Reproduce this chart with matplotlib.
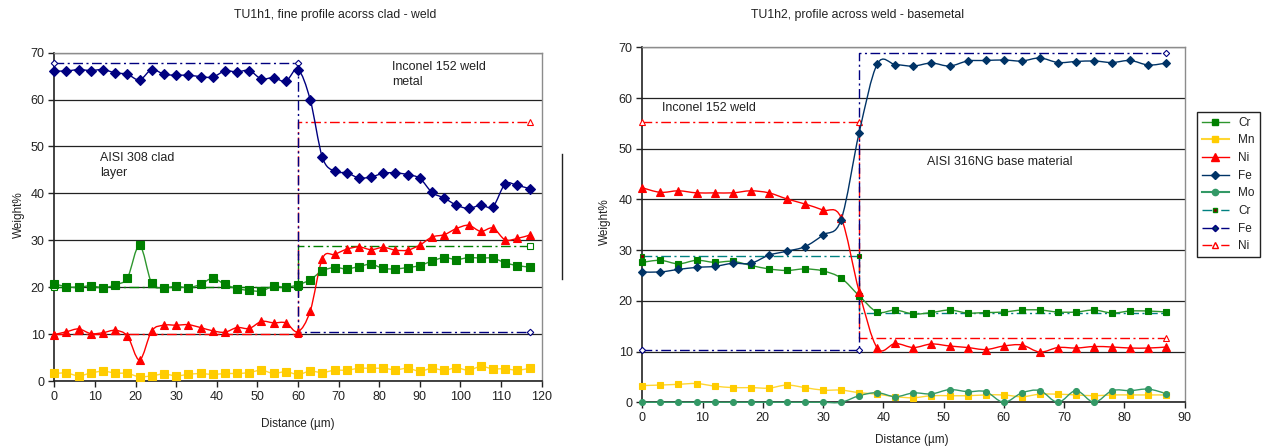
import matplotlib
matplotlib.use("Agg")
import matplotlib.pyplot as plt
import numpy as np
from matplotlib.path import Path
from matplotlib.patches import PathPatch
from matplotlib.lines import Line2D

plt.rcParams['font.family'] = ['Liberation Sans', 'DejaVu Sans']

# ---------------- TU1h1: clad -> weld ----------------
dist1 = list(range(0, 118, 3))
cr1 = [20.75, 20.1, 20.0, 20.3, 19.9, 20.5, 22.0, 28.9, 20.8, 19.9, 20.2, 19.9, 20.6, 21.9,
       20.6, 19.7, 19.3, 19.2, 20.2, 20.0, 20.5, 21.6, 23.5, 24.2, 23.9, 24.4, 24.9, 24.0,
       23.9, 24.2, 24.6, 25.6, 26.3, 25.9, 26.3, 26.2, 26.2, 25.2, 24.6, 24.3]
mn1 = [1.6, 1.7, 1.1, 1.7, 2.1, 1.7, 1.6, 0.9, 1.1, 1.5, 1.1, 1.4, 1.6, 1.4, 1.6, 1.6, 1.8,
       2.3, 1.6, 2.0, 1.4, 2.1, 1.8, 2.3, 2.3, 2.7, 2.7, 2.7, 2.4, 2.7, 2.1, 2.7, 2.3, 2.8,
       2.3, 3.1, 2.6, 2.6, 2.3, 2.7]
ni1 = [9.9, 10.5, 11.1, 10.1, 10.3, 10.8, 9.6, 4.5, 10.7, 11.9, 11.9, 12.0, 11.4, 10.7,
       10.4, 11.4, 11.2, 12.7, 12.4, 12.4, 10.5, 14.9, 26.1, 27.0, 28.1, 28.6, 28.0, 28.5,
       27.9, 27.9, 29.0, 30.7, 31.2, 32.5, 33.2, 31.9, 32.6, 30.1, 30.4, 31.1]
fe1 = [66.1, 66.1, 66.4, 66.2, 66.4, 65.7, 65.4, 64.2, 66.4, 65.4, 65.2, 65.2, 64.9, 64.8,
       66.1, 65.9, 66.2, 64.4, 64.7, 63.9, 66.4, 60.0, 47.7, 44.7, 44.4, 43.3, 43.5, 44.3,
       44.4, 44.0, 43.2, 40.2, 39.0, 37.5, 36.8, 37.5, 37.2, 42.0, 41.7, 41.0]
# nominal compositions (step profiles)
ref1_x = [0, 60, 60, 117]
cr_ref1 = [20.0, 20.0, 28.8, 28.8]
fe_ref1 = [67.9, 67.9, 10.4, 10.4]
ni_ref1 = [10.0, 10.0, 55.3, 55.3]

# ---------------- TU1h2: weld -> base metal ----------------
dist2 = list(range(0, 88, 3))
cr2 = [27.6, 28.0, 27.3, 28.0, 27.6, 27.8, 27.0, 26.3, 26.0, 26.3, 25.9, 24.5, 21.0, 17.8,
       18.2, 17.4, 17.7, 18.2, 17.6, 17.7, 17.8, 18.2, 18.2, 17.8, 17.8, 18.2, 17.6, 18.0,
       18.0, 17.8]
mn2 = [3.3, 3.4, 3.55, 3.7, 3.2, 2.9, 2.9, 2.8, 3.4, 2.9, 2.4, 2.4, 1.9, 1.6, 1.1, 0.9,
       1.3, 1.3, 1.3, 1.45, 1.45, 1.1, 1.6, 1.6, 1.45, 1.3, 1.45, 1.45, 1.45, 1.45]
ni2 = [42.3, 41.4, 41.7, 41.3, 41.3, 41.3, 41.7, 41.3, 40.1, 39.1, 37.9, 36.4, 21.8, 10.7,
       11.6, 10.8, 11.5, 11.1, 10.8, 10.4, 11.1, 11.3, 9.9, 10.8, 10.7, 11.0, 10.9, 10.7,
       10.7, 10.9]
fe2 = [25.7, 25.7, 26.2, 26.6, 26.8, 27.4, 27.4, 29.0, 29.8, 30.7, 33.0, 36.0, 53.2, 66.7,
       66.6, 66.3, 66.9, 66.3, 67.3, 67.4, 67.5, 67.3, 67.9, 67.0, 67.2, 67.3, 67.0, 67.4,
       66.5, 66.9]
mo2 = [0, 0, 0, 0, 0, 0, 0, 0, 0, 0, 0, 0, 1.3, 1.9, 1.1, 1.85, 1.65, 2.5, 2.1, 2.1, 0,
       1.85, 2.3, 0, 2.3, 0, 2.3, 2.3, 2.6, 1.7]
ref2_x = [0, 36, 36, 87]
cr_ref2 = [28.8, 28.8, 17.6, 17.6]
fe_ref2 = [10.4, 10.4, 68.8, 68.8]
ni_ref2 = [55.2, 55.2, 12.6, 12.6]

DASHDOT = (0, (7, 2.5, 1.5, 2.5))
GREEN, GREEN_LINE = '#008000', '#2e962e'
GOLD, GOLD_LINE = '#ffcc00', '#ffd633'
RED = '#ff0000'
NAVY = '#000080'
DARKBLUE = '#003366'
MO = '#339966'
TEAL = '#008080'


def smooth_path(x, y):
    """Cubic Bezier path through the points (Catmull-Rom style smoothing)."""
    pts = np.column_stack([x, y]).astype(float)
    n = len(pts)
    verts = [pts[0]]
    codes = [Path.MOVETO]
    for i in range(n - 1):
        p0 = pts[i - 1] if i > 0 else pts[i]
        p1 = pts[i]
        p2 = pts[i + 1]
        p3 = pts[i + 2] if i + 2 < n else pts[i + 1]
        c1 = p1 + (p2 - p0) / 6.0
        c2 = p2 - (p3 - p1) / 6.0
        verts += [c1, c2, p2]
        codes += [Path.CURVE4] * 3
    return Path(verts, codes)


def series(ax, x, y, lc, mc, marker, ms, mec=None, lw=1.0, z=3):
    ax.add_patch(PathPatch(smooth_path(x, y), fill=False, edgecolor=lc, lw=lw, zorder=z,
                           clip_on=False))
    ax.plot(x, y, linestyle='none', marker=marker, ms=ms, mfc=mc,
            mec=mec if mec else mc, mew=0.8, zorder=z + 0.5, clip_on=False)


def step_ref(ax, x, y, color, marker, ms, mfc='white', mec=None):
    ax.plot(x, y, color=color, lw=1.0, linestyle=DASHDOT, zorder=2.5, clip_on=False)
    ax.plot([x[0], x[1], x[-1]], [y[0], y[1], y[-1]], linestyle='none', marker=marker,
            ms=ms, mfc=mfc, mec=mec if mec else color, mew=0.8, zorder=2.6, clip_on=False)


def style_axes(ax, xmax, xlabel_pos, ylabel_pos):
    ax.set_ylim(0, 70)
    ax.set_xlim(0, xmax)
    ax.set_xticks(np.arange(0, xmax + 1, 10))
    ax.set_yticks(np.arange(0, 71, 10))
    ax.grid(axis='y', color='#222222', lw=0.9, zorder=1)
    ax.set_axisbelow(True)
    for s in ('top', 'right'):
        ax.spines[s].set_color('#8c8c8c')
        ax.spines[s].set_linewidth(1.0)
    for s in ('left', 'bottom'):
        ax.spines[s].set_color('#222222')
        ax.spines[s].set_linewidth(1.2)
    ax.tick_params(axis='both', direction='out', length=4, width=1, labelsize=9,
                   color='#222222', labelcolor='#222222', pad=3)
    ax.set_xlabel('Distance (µm)', fontsize=8.5, color='#222222')
    ax.set_ylabel('Weight%', fontsize=8.5, color='#222222')
    ax.xaxis.set_label_coords(*xlabel_pos)
    ax.yaxis.set_label_coords(*ylabel_pos)


fig = plt.figure(figsize=(12.68, 4.47), dpi=100)

# ---- left panel ----
ax1 = fig.add_axes([54.3 / 1268, 1 - 381 / 447, 487.4 / 1268, 328.3 / 447])
style_axes(ax1, 120, (0.5, -0.113), (-0.06, 0.506))
step_ref(ax1, ref1_x, cr_ref1, GREEN, 's', 3.8)
step_ref(ax1, ref1_x, ni_ref1, RED, '^', 4.2)
step_ref(ax1, ref1_x, fe_ref1, NAVY, 'D', 3.3)
series(ax1, dist1, mn1, GOLD_LINE, GOLD, 's', 5.2)
series(ax1, dist1, cr1, GREEN_LINE, GREEN, 's', 5.2)
series(ax1, dist1, ni1, RED, RED, '^', 6)
series(ax1, dist1, fe1, NAVY, NAVY, 'D', 5)
ax1.text(83.2, 68.2, 'Inconel 152 weld\nmetal', fontsize=9, color='#222222',
         va='top', ha='left', linespacing=1.3)
ax1.text(11.3, 48.8, 'AISI 308 clad\nlayer', fontsize=9, color='#222222',
         va='top', ha='left', linespacing=1.3)
fig.text(335 / 1268, 1 - 15 / 447, 'TU1h1, fine profile acorss clad - weld',
         fontsize=8.8, color='#222222', ha='center', va='center')
fig.add_artist(Line2D([561.7 / 1268] * 2, [1 - 154 / 447, 1 - 279 / 447],
                      color='#222222', lw=1.0))

# ---- right panel ----
ax2 = fig.add_axes([642.3 / 1268, 1 - 402.3 / 447, 542.2 / 1268, 355 / 447])
style_axes(ax2, 90, (0.497, -0.088), (-0.058, 0.508))
step_ref(ax2, ref2_x, cr_ref2, TEAL, 's', 3.3, mfc='#800000', mec=GREEN)
step_ref(ax2, ref2_x, ni_ref2, RED, '^', 3.8)
step_ref(ax2, ref2_x, fe_ref2, NAVY, 'D', 3.2)
series(ax2, dist2, mn2, GOLD_LINE, GOLD, 's', 4.6)
series(ax2, dist2, mo2, MO, MO, 'o', 4.3)
series(ax2, dist2, cr2, GREEN_LINE, GREEN, 's', 4.8)
series(ax2, dist2, ni2, RED, RED, '^', 5.2)
series(ax2, dist2, fe2, DARKBLUE, DARKBLUE, 'D', 3.8)
ax2.text(3.3, 58.0, 'Inconel 152 weld', fontsize=9, color='#222222', va='center', ha='left')
ax2.text(47.2, 47.4, 'AISI 316NG base material', fontsize=9, color='#222222',
         va='center', ha='left')
fig.text(858 / 1268, 1 - 15 / 447, 'TU1h2, profile across weld - basemetal',
         fontsize=8.8, color='#222222', ha='center', va='center')

handles = [
    Line2D([], [], color=GREEN_LINE, marker='s', ms=4.8, mfc=GREEN, mec=GREEN, lw=1),
    Line2D([], [], color=GOLD_LINE, marker='s', ms=4.8, mfc=GOLD, mec=GOLD, lw=1.5),
    Line2D([], [], color=RED, marker='^', ms=5.2, mfc=RED, mec=RED, lw=1),
    Line2D([], [], color=DARKBLUE, marker='D', ms=3.8, mfc=DARKBLUE, mec=DARKBLUE, lw=1),
    Line2D([], [], color=MO, marker='o', ms=4.5, mfc=MO, mec=MO, lw=1.5),
    Line2D([], [], color=TEAL, linestyle=DASHDOT, marker='s', ms=3.3, mfc='#800000', mec=GREEN, lw=1),
    Line2D([], [], color=NAVY, linestyle=DASHDOT, marker='D', ms=3.2, mfc=DARKBLUE, mec=NAVY, lw=1),
    Line2D([], [], color=RED, linestyle=DASHDOT, marker='^', ms=3.8, mfc='white', mec=RED, lw=1),
]
labels = ['Cr', 'Mn', 'Ni', 'Fe', 'Mo', 'Cr', 'Fe', 'Ni']
leg = fig.legend(handles, labels, loc='upper left',
                 bbox_to_anchor=(1197 / 1268, 1 - 112 / 447), fontsize=8.5,
                 frameon=True, fancybox=False, edgecolor='#222222', framealpha=1,
                 handlelength=2.3, handletextpad=0.8, labelspacing=0.48,
                 borderpad=0.4, borderaxespad=0)
leg.get_frame().set_linewidth(1.0)
for t in leg.get_texts():
    t.set_color('#222222')

fig.savefig('out.png', dpi=100)
